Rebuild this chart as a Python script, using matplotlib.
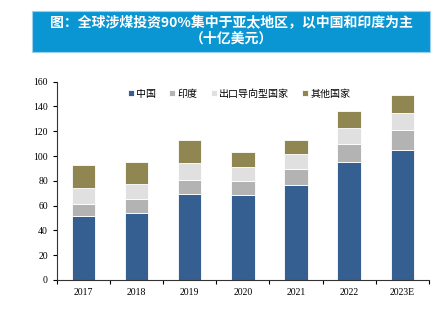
import numpy as np
import matplotlib.pyplot as plt
from matplotlib.patches import Rectangle

plt.rcParams['font.family'] = ['Liberation Serif', 'Noto Sans CJK SC']

years = ['2017', '2018', '2019', '2020', '2021', '2022', '2023E']
series_names = ['中国', '印度', '出口导向型国家', '其他国家']
china = [51.5, 54.0, 69.4, 68.8, 76.6, 94.9, 104.8]
india = [10.0, 11.3, 11.2, 11.2, 12.9, 14.8, 16.2]
export = [12.5, 12.1, 14.0, 11.4, 11.9, 12.9, 13.4]
others = [18.7, 17.5, 18.0, 11.6, 11.5, 13.4, 14.5]
colors = ['#365F91', '#B3B3B3', '#E0E0E0', '#8F8651']

fig = plt.figure(figsize=(4.38, 3.24), dpi=100)
ax = fig.add_axes([0.130, 0.136, 0.849, 0.612])

x = np.arange(len(years))
bottom = np.zeros(len(years))
for name, vals, c in zip(series_names, [china, india, export, others], colors):
    ax.bar(x, vals, 0.44, bottom=bottom, color=c, label=name,
           edgecolor='white', linewidth=0.6)
    bottom += np.array(vals)

ax.set_ylim(0, 160)
ax.set_xlim(-0.5, len(years) - 0.5)
ax.set_yticks(range(0, 161, 20))
ax.set_xticks(x)
ax.set_xticklabels(years)
ax.set_xticks(np.arange(-0.5, len(years), 1), minor=True)
ax.tick_params(axis='x', which='major', length=0, labelsize=7, pad=6)
ax.tick_params(axis='x', which='minor', length=3, width=0.8)
ax.tick_params(axis='y', labelsize=7, length=3, width=0.8)
for s in ['top', 'right']:
    ax.spines[s].set_visible(False)
for s in ['left', 'bottom']:
    ax.spines[s].set_linewidth(0.8)
    ax.spines[s].set_color('#333333')

ax.legend(loc='upper center', bbox_to_anchor=(0.49, 1.01), ncol=4, frameon=False,
          prop={'family': 'Noto Sans CJK SC', 'size': 7.2},
          handlelength=0.6, handleheight=0.6, handletextpad=0.25, columnspacing=1.3)

# title banner
fig.patches.append(Rectangle((32 / 438, 1 - 52 / 324), 398 / 438, 41 / 324,
                             transform=fig.transFigure, facecolor='#0A96D2',
                             edgecolor='#9CCFEA', linewidth=0.8))
fig.text(231 / 438, 1 - 31 / 324, '图：全球涉煤投资90%集中于亚太地区，以中国和印度为主\n（十亿美元）',
         ha='center', va='center', color='white', fontsize=10.0, fontweight='bold',
         family=['Noto Sans CJK SC'], linespacing=1.1)

fig.savefig('out.png', dpi=100)
